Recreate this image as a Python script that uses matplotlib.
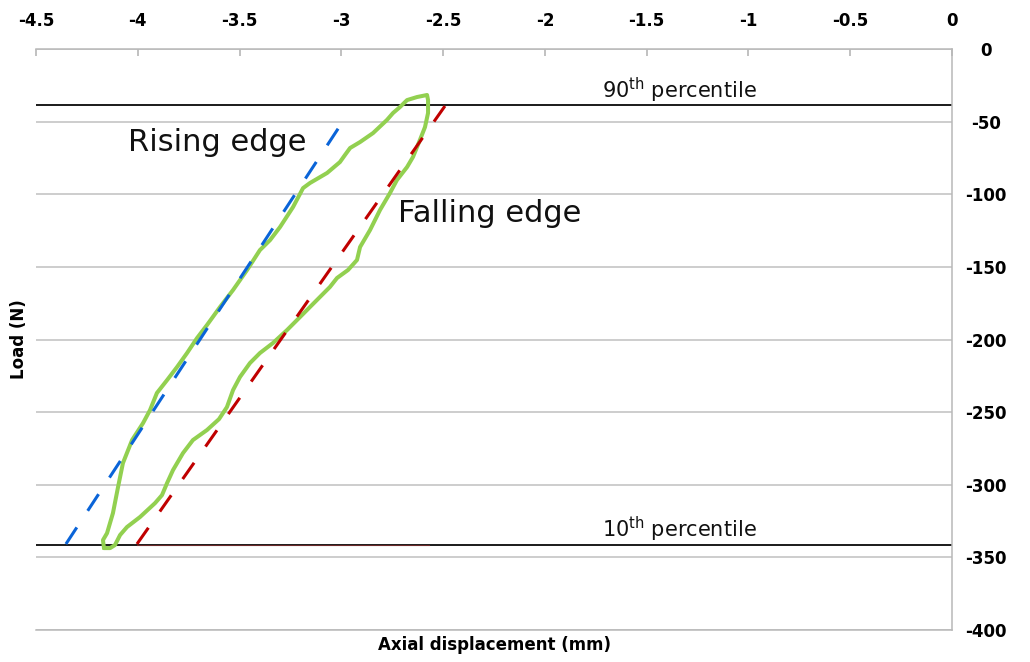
import matplotlib
matplotlib.use("Agg")
import matplotlib.pyplot as plt

plt.rcParams["font.family"] = ["DejaVu Sans"]
plt.rcParams["axes.unicode_minus"] = False

# Axis ticks and labels
x_ticks = [-4.5, -4, -3.5, -3, -2.5, -2, -1.5, -1, -0.5, 0]
x_tick_labels = ["-4.5", "-4", "-3.5", "-3", "-2.5", "-2", "-1.5", "-1", "-0.5", "0"]
y_ticks = [0, -50, -100, -150, -200, -250, -300, -350, -400]
y_tick_labels = ["0", "-50", "-100", "-150", "-200", "-250", "-300", "-350", "-400"]

# Load-displacement hysteresis loop (mm, N)
loop_x = [-4.166, -4.171, -4.151, -4.122, -4.097, -4.073, -4.028, -3.974, -3.940,
          -3.906, -3.856, -3.807, -3.758, -3.709, -3.660, -3.596, -3.532, -3.463,
          -3.400, -3.350, -3.301, -3.237, -3.188, -3.154, -3.070, -3.007, -2.982,
          -2.957, -2.908, -2.844, -2.776, -2.746, -2.712, -2.677, -2.628, -2.579,
          -2.574, -2.574, -2.589, -2.614, -2.648, -2.677, -2.727, -2.761, -2.810,
          -2.859, -2.908, -2.923, -2.967, -3.021, -3.056, -3.120, -3.203, -3.267,
          -3.336, -3.400, -3.449, -3.498, -3.532, -3.562, -3.601, -3.660, -3.729,
          -3.778, -3.827, -3.856, -3.881, -3.915, -3.989, -4.053, -4.087, -4.112,
          -4.136, -4.166]
loop_y = [-343.6, -338.1, -333.3, -319.5, -301.6, -285.1, -269.2, -257.5, -248.6,
          -236.8, -227.9, -218.9, -209.3, -199.0, -190.0, -177.6, -165.9, -152.1,
          -138.4, -131.5, -122.5, -108.7, -95.7, -92.2, -85.3, -77.8, -72.9,
          -68.1, -64.0, -57.8, -48.8, -44.0, -39.9, -35.1, -33.0, -31.6,
          -35.1, -44.0, -53.7, -62.6, -74.3, -81.2, -90.2, -99.1, -110.8,
          -124.6, -136.3, -145.2, -152.1, -157.6, -163.8, -172.8, -184.5, -193.5,
          -202.4, -209.3, -216.2, -225.8, -234.8, -246.5, -254.8, -262.3, -269.2,
          -278.2, -289.9, -298.8, -307.1, -312.6, -322.2, -329.1, -334.6, -341.5,
          -343.6, -343.6]

# Linear fits of the two edges (endpoints)
rise_x = [-4.353, -2.972]
rise_y = [-340.8, -45.4]
fall_x = [-4.004, -2.491]
fall_y = [-340.8, -39.2]

# Percentile levels (N)
p90 = -38.5
p10 = -341.5

fig = plt.figure(figsize=(10.30, 6.62), dpi=100)
ax = fig.add_axes([36 / 1030, 1 - 630 / 662, (952 - 36) / 1030, (630 - 49.1) / 662])

ax.set_xlim(-4.5, 0)
ax.set_ylim(-400, 0)

grid_c = "#c0c0c0"
ax.set_yticks(y_ticks)
ax.set_yticklabels(y_tick_labels)
ax.set_xticks(x_ticks)
ax.set_xticklabels(x_tick_labels)
ax.yaxis.grid(True, color=grid_c, lw=1.1)
ax.xaxis.grid(False)
ax.set_axisbelow(True)

ax.xaxis.tick_top()
ax.xaxis.set_label_position("bottom")
ax.yaxis.tick_right()
ax.yaxis.set_label_position("left")
ax.tick_params(axis="x", direction="in", length=5, width=1.1, color="#b0b0b0",
               pad=13.5, labelsize=12)
ax.tick_params(axis="y", length=0, pad=24.5, labelsize=12)
for lab in ax.get_yticklabels():
    lab.set_horizontalalignment("center")
for lab in ax.get_xticklabels() + ax.get_yticklabels():
    lab.set_fontweight("bold")

for side in ("top", "right", "bottom"):
    ax.spines[side].set_color("#b8b8b8")
    ax.spines[side].set_linewidth(1.1)
ax.spines["left"].set_visible(False)

ax.set_xlabel("Axial displacement (mm)", fontsize=12, fontweight="bold", labelpad=4)
ax.set_ylabel("Load (N)", fontsize=12, fontweight="bold", labelpad=6)

# Percentile reference lines
ax.axhline(p90, color="#1a1a1a", lw=1.4, zorder=2)
ax.axhline(p10, color="#1a1a1a", lw=1.4, zorder=2)
ax.plot([fall_x[0], -2.57], [p10, p10], color="#6b2a2a", lw=0.8, zorder=2.1)

# Hysteresis loop
ax.plot(loop_x, loop_y, color="#92d050", lw=2.9, solid_joinstyle="round",
        solid_capstyle="round", zorder=3)

# Edge fits
ax.plot(rise_x, rise_y, color="#0a64d8", lw=2.2, ls=(0, (6.5, 6.5)), zorder=4)
ax.plot(fall_x, fall_y, color="#c00000", lw=2.2, ls=(0, (6.5, 6.5)), zorder=4)

# Annotations
ax.text(-4.048, -70.2, "Rising edge", fontsize=22, va="baseline", ha="left", color="#111111")
ax.text(-2.722, -119.1, "Falling edge", fontsize=22, va="baseline", ha="left", color="#111111")
ax.text(-1.720, -33.7, r"90$^{\mathrm{th}}$ percentile", fontsize=15, va="baseline",
        ha="left", color="#111111")
ax.text(-1.720, -335.8, r"10$^{\mathrm{th}}$ percentile", fontsize=15, va="baseline",
        ha="left", color="#111111")

fig.savefig("out.png", dpi=100)
